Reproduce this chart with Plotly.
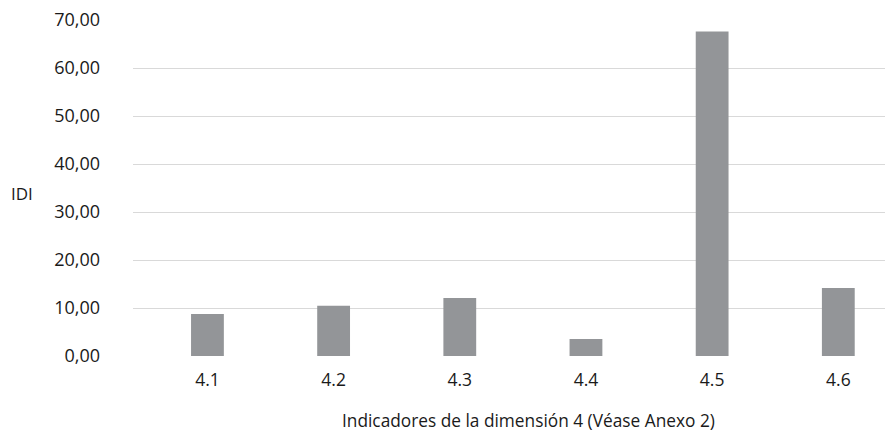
import plotly.graph_objects as go

categories = ["4.1", "4.2", "4.3", "4.4", "4.5", "4.6"]
values = [8.74, 10.46, 12.07, 3.54, 67.6, 14.15]
y_tickvals = [0, 10, 20, 30, 40, 50, 60, 70]
y_ticktext = ["0,00", "10,00", "20,00", "30,00", "40,00", "50,00", "60,00", "70,00"]
x_title = "Indicadores de la dimensión 4 (Véase Anexo 2)"

FONT = "Open Sans, Noto Sans, sans-serif"
TXT = "#1a1a1a"

fig = go.Figure(go.Bar(
    x=list(range(len(categories))),
    y=values,
    width=0.26,
    marker=dict(color="#939598", line=dict(width=0)),
))

fig.update_layout(
    width=885, height=438,
    margin=dict(l=133, r=0, t=19.5, b=82),
    paper_bgcolor="white", plot_bgcolor="white",
    showlegend=False,
    font=dict(family=FONT, size=17, color=TXT),
    xaxis=dict(
        range=[-0.59, 5.37],
        tickmode="array",
        tickvals=list(range(len(categories))),
        ticktext=categories,
        showgrid=False, zeroline=False, showline=False,
        ticks="", ticklabelstandoff=11,
        tickfont=dict(size=17.5, color=TXT),
    ),
    yaxis=dict(
        range=[0, 70],
        tickmode="array",
        tickvals=y_tickvals,
        ticktext=y_ticktext,
        showgrid=True, gridcolor="#d9d9d9", gridwidth=1.3,
        zeroline=False, showline=False, ticks="",
        ticklabelstandoff=32,
        tickfont=dict(size=18, color=TXT),
    ),
    annotations=[
        dict(
            text="IDI", xref="paper", yref="paper",
            x=-133/752, y=(356-193)/336.5, xanchor="left", yanchor="middle",
            showarrow=False, xshift=9, font=dict(size=17, color=TXT),
        ),
        dict(
            text=x_title, xref="paper", yref="paper",
            x=(528-133)/752, y=-(421-356)/336.5, xanchor="center", yanchor="middle",
            showarrow=False, font=dict(size=17.3, color=TXT),
        ),
    ],
)

fig.write_html("out.html", config={"displayModeBar": False},
               post_script="document.body.style.margin='0';")
